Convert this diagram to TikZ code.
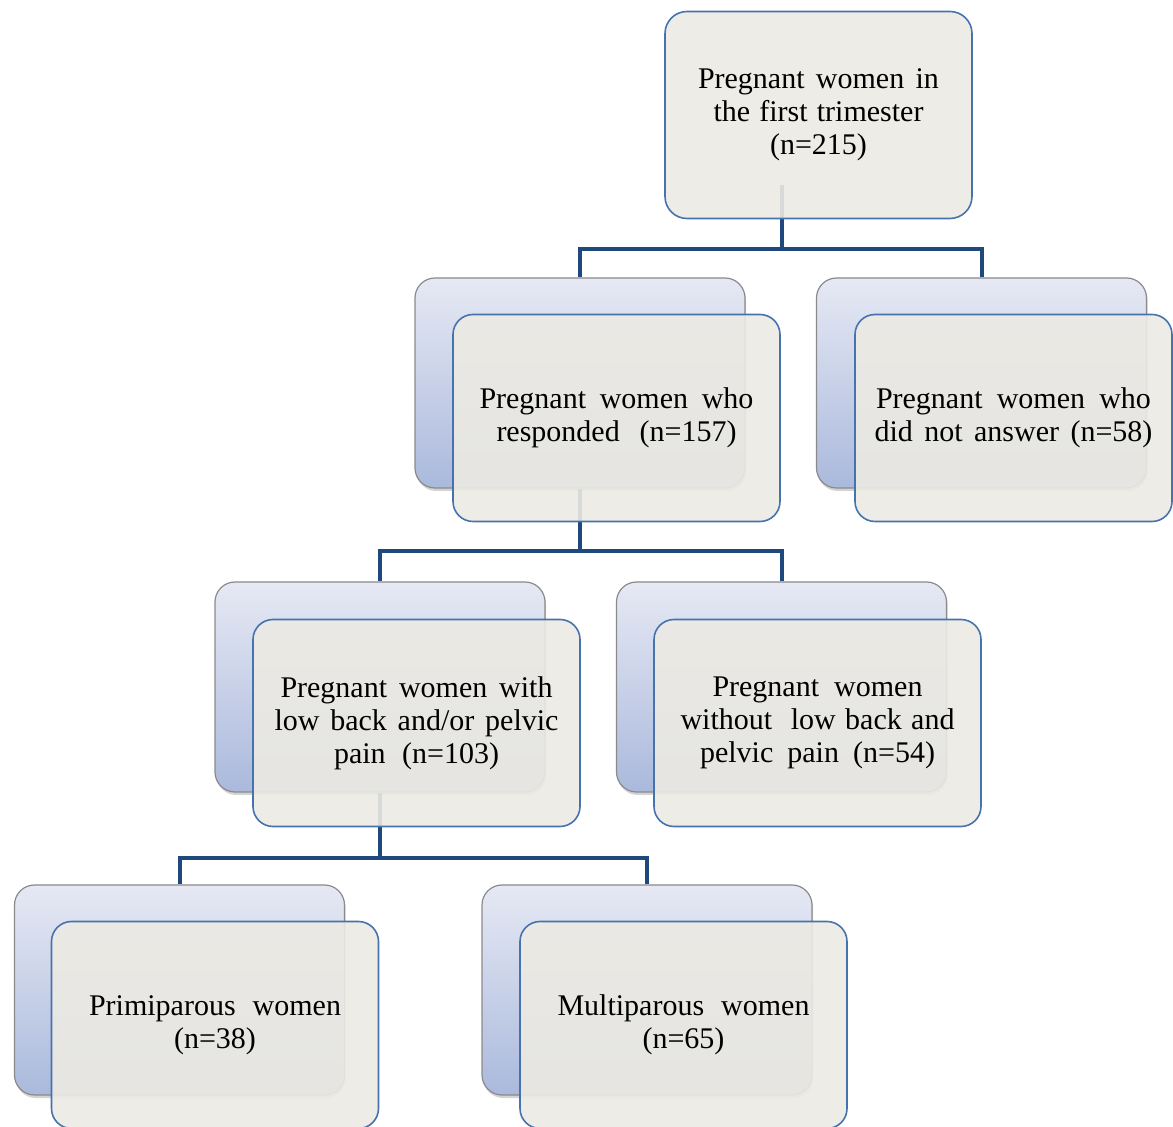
\documentclass[tikz,border=0pt]{standalone}
\usepackage{fontspec}
\setmainfont{Liberation Serif}
\usetikzlibrary{shadows}
\definecolor{connc}{HTML}{1F497D}
\definecolor{frontfill}{HTML}{ECEAE3}
\definecolor{frontline}{HTML}{4672AE}
\definecolor{backline}{HTML}{8A8A8A}
\definecolor{backtop}{HTML}{E6E9F4}
\definecolor{backbot}{HTML}{AAB9DC}
\pgfdeclarelayer{bg}
\pgfdeclarelayer{mid}
\pgfsetlayers{bg,mid,main}
\newcommand{\jl}[2]{\makebox[#1pt][s]{#2}}
\begin{document}
\begin{tikzpicture}[x=0.5pt,y=-0.5pt,
  front/.style={rectangle, rounded corners=10pt, draw=frontline, line width=0.8pt,
    fill=frontfill, fill opacity=0.9, text opacity=1, minimum width=163.5pt,
    minimum height=103.5pt, inner sep=0pt, align=center,
    font=\fontsize{15}{16.5}\selectfont},
  back/.style={rectangle, rounded corners=10pt, draw=backline, line width=0.6pt,
    top color=backtop, bottom color=backbot, minimum width=165pt, minimum height=105pt,
    inner sep=0pt,
    drop shadow={shadow xshift=0.6pt, shadow yshift=-1.5pt, opacity=0.35}},
  conn/.style={draw=connc, line width=2pt}]
\useasboundingbox (0,0) rectangle (1173,1127);

\begin{pgfonlayer}{bg}
\node[back] (b2l) at (580,383) {};
\node[back] (b2r) at (981.5,383) {};
\node[back] (b3l) at (380,687) {};
\node[back] (b3r) at (781.5,687) {};
\node[back] (b4l) at (179.5,990) {};
\node[back] (b4r) at (647,990) {};
\end{pgfonlayer}

\node[front, minimum width=153.5pt, rounded corners=11pt] (top) at (818.5,115)
  {\jl{120.5}{Pregnant\ \ women\ \ in}\\ \jl{105}{the first trimester}\\ (n=215)};
\node[front] (f2l) at (616.5,418)
  {\jl{137}{Pregnant\ \ women\ \ who}\\ \jl{120}{responded (n=157)}};
\node[front, minimum width=158.5pt] (f2r) at (1013.5,418)
  {\jl{137.5}{Pregnant\ \ women\ \ who}\\ \jl{139}{did not answer (n=58)}};
\node[front] (f3l) at (416.5,723)
  {\jl{136}{Pregnant\ \ women\ \ with}\\ \jl{142}{low back and/or pelvic}\\ \jl{82.5}{pain (n=103)}};
\node[front] (f3r) at (817.5,723)
  {\jl{105}{Pregnant\ \ women}\\ \jl{137}{without\ \ low back and}\\ \jl{117.5}{pelvic\ \ pain\ \ (n=54)}};
\node[front] (f4l) at (215,1025)
  {\jl{126}{Primiparous\ \ women}\\ (n=38)};
\node[front] (f4r) at (683.5,1025)
  {\jl{126}{Multiparous\ \ women}\\ (n=65)};

\begin{pgfonlayer}{mid}
\draw[conn] ([xshift=-18.25pt,yshift=17pt]top.south) -- ++(0,64) coordinate (j1);
\draw[conn] (j1) -| (b2l.north);
\draw[conn] (j1) -| (b2r.north);
\draw[conn] (b2l.south) -- ++(0,62) coordinate (j2);
\draw[conn] (j2) -| (b3l.north);
\draw[conn] (j2) -| (b3r.north);
\draw[conn] (b3l.south) -- ++(0,65) coordinate (j3);
\draw[conn] (j3) -| (b4l.north);
\draw[conn] (j3) -| (b4r.north);
\end{pgfonlayer}
\end{tikzpicture}
\end{document}
